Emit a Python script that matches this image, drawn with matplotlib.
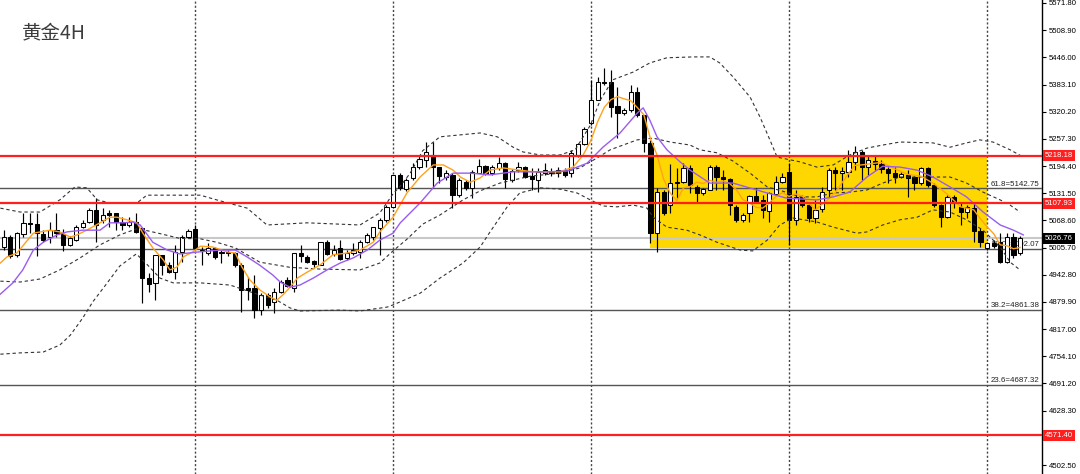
import matplotlib
matplotlib.use('Agg')
import matplotlib.pyplot as plt
from matplotlib.patches import Rectangle
import numpy as np

plt.rcParams['font.family'] = ['Liberation Sans', 'DejaVu Sans']

# --- 4H candles (oldest -> newest) ---
opens = [5006.3, 5029.5, 4988.5, 5037.2, 5061.9, 5059.6, 5037.2, 5031.0, 5046.4, 5037.2,
         5011.7, 5023.3, 5054.0, 5065.7, 5092.7, 5069.6, 5085.1, 5085.1, 5065.7, 5058.0,
         5065.7, 5050.3, 4934.6, 4923.0, 4988.5, 4965.4, 4949.9, 4996.2, 5031.0, 5048.1,
         5000.1, 4992.5, 5004.0, 4993.2, 4995.5, 4992.5, 4965.4, 4912.9, 4911.5, 4861.3,
         4896.0, 4880.5, 4903.6, 4930.7, 4911.5, 4992.5, 4984.6, 4974.7, 4965.4, 5019.4,
         4990.9, 5004.0, 4980.9, 4993.9, 4996.2, 5019.4, 5031.0, 5050.3, 5069.6, 5100.4,
         5173.7, 5140.6, 5166.1, 5191.5, 5208.4, 5220.0, 5191.5, 5169.8, 5173.7, 5127.4,
         5158.2, 5142.9, 5179.0, 5194.5, 5177.6, 5189.2, 5202.2, 5162.1, 5185.3, 5191.5,
         5171.4, 5162.1, 5177.6, 5181.4, 5185.3, 5185.3, 5177.6, 5220.0, 5245.5, 5293.4,
         5347.3, 5385.9, 5389.6, 5333.4, 5316.5, 5324.2, 5366.5, 5312.6, 5247.1, 5038.7,
         5135.1, 5104.3, 5154.5, 5158.2, 5189.2, 5146.6, 5132.7, 5139.0, 5192.9, 5168.4,
         5163.7, 5100.4, 5069.6, 5086.4, 5125.1, 5115.8, 5091.1, 5129.7, 5158.2, 5181.4,
         5069.6, 5123.5, 5104.3, 5073.5, 5094.3, 5139.0, 5185.3, 5177.6, 5181.4, 5204.5,
         5227.6, 5191.5, 5206.8, 5199.2, 5186.9, 5177.6, 5168.4, 5173.7, 5168.4, 5154.5,
         5189.2, 5150.6, 5104.3, 5077.2, 5123.5, 5100.4, 5088.8, 5097.3, 5044.8, 5004.0,
         5015.6, 5018.7, 4973.1, 5030.2, 4992.5]
highs = [5046.4, 5034.8, 5042.5, 5085.8, 5085.1, 5085.8, 5046.4, 5065.7, 5085.8, 5048.7,
         5032.6, 5058.0, 5069.6, 5096.6, 5119.8, 5096.6, 5092.7, 5085.8, 5077.2, 5077.2,
         5085.1, 5051.0, 4946.2, 4988.5, 4988.5, 4973.1, 5011.7, 5034.8, 5048.1, 5058.0,
         5007.7, 5015.6, 5007.7, 5000.1, 5000.1, 4996.2, 4969.3, 4938.3, 4942.3, 4900.6,
         4900.6, 4911.5, 4930.7, 4936.9, 4992.5, 5011.7, 4988.5, 4977.0, 5019.4, 5023.3,
         5011.7, 5023.3, 5000.1, 5015.6, 5023.3, 5038.7, 5054.0, 5073.5, 5104.3, 5173.7,
         5178.3, 5166.8, 5201.5, 5220.0, 5250.8, 5250.8, 5192.9, 5185.3, 5177.6, 5166.8,
         5162.1, 5185.3, 5210.1, 5196.8, 5196.8, 5216.1, 5204.5, 5186.9, 5204.5, 5194.5,
         5189.2, 5189.2, 5200.8, 5189.9, 5192.9, 5189.2, 5231.6, 5247.8, 5284.1, 5393.6,
         5401.2, 5420.6, 5416.7, 5378.1, 5328.1, 5382.0, 5376.7, 5312.6, 5254.7, 5142.9,
         5139.0, 5200.0, 5189.2, 5200.8, 5196.8, 5150.6, 5142.9, 5196.8, 5196.8, 5185.3,
         5166.1, 5104.3, 5085.1, 5127.4, 5142.9, 5127.4, 5135.1, 5171.4, 5177.6, 5200.8,
         5139.0, 5127.4, 5108.2, 5115.8, 5146.6, 5189.2, 5192.9, 5192.9, 5231.6, 5240.8,
         5231.6, 5220.0, 5220.0, 5208.4, 5192.9, 5192.9, 5181.4, 5185.3, 5172.1, 5191.5,
         5192.2, 5154.5, 5106.6, 5127.4, 5127.4, 5111.9, 5104.3, 5108.2, 5050.3, 5019.4,
         5023.3, 5038.7, 5038.7, 5038.7, 5032.6]
lows = [5000.1, 4981.6, 4984.6, 5031.0, 5038.7, 4986.2, 5019.4, 5016.4, 5030.3, 4997.8,
        5009.4, 5021.0, 5051.0, 5061.9, 5019.4, 5061.9, 5054.0, 5046.4, 5046.4, 5053.3,
        5038.7, 4876.8, 4903.6, 4884.4, 4942.3, 4947.6, 4932.3, 4973.1, 5027.2, 5000.1,
        4965.4, 4988.5, 4978.6, 4969.3, 4986.2, 4961.5, 4857.4, 4884.4, 4842.0, 4849.7,
        4865.9, 4853.6, 4899.9, 4915.2, 4903.6, 4973.1, 4969.3, 4957.8, 4965.4, 4988.5,
        4986.2, 4977.0, 4977.0, 4988.5, 4980.9, 5015.6, 5023.3, 4988.5, 5065.0, 5097.3,
        5139.0, 5136.7, 5162.1, 5187.6, 5192.9, 5142.9, 5154.5, 5162.1, 5096.6, 5123.5,
        5139.0, 5119.8, 5177.6, 5173.7, 5173.7, 5185.3, 5142.9, 5158.2, 5181.4, 5166.1,
        5139.0, 5135.1, 5173.7, 5171.4, 5169.8, 5169.8, 5169.8, 5216.1, 5243.1, 5289.4,
        5347.3, 5382.0, 5308.6, 5258.6, 5312.6, 5320.2, 5308.6, 5227.6, 5015.6, 4996.2,
        5081.1, 5085.1, 5119.8, 5154.5, 5131.3, 5111.9, 5127.4, 5139.0, 5139.0, 5139.0,
        5081.1, 5065.7, 5065.7, 5065.7, 5108.2, 5073.5, 5065.7, 5127.4, 5154.5, 5011.7,
        5058.0, 5100.4, 5065.7, 5061.9, 5088.8, 5123.5, 5139.0, 5139.0, 5169.8, 5185.3,
        5162.1, 5173.7, 5185.3, 5177.6, 5154.5, 5154.5, 5166.1, 5123.5, 5139.0, 5150.6,
        5146.6, 5100.4, 5054.0, 5073.5, 5096.6, 5058.0, 5073.5, 5019.4, 5007.7, 5000.1,
        5004.7, 4969.3, 4969.3, 4980.9, 4988.5]
closes = [5029.5, 4986.2, 5038.7, 5061.9, 5059.6, 5038.7, 5023.3, 5046.4, 5038.7, 5011.7,
          5027.2, 5054.0, 5063.3, 5092.7, 5058.0, 5081.1, 5081.1, 5065.7, 5058.0, 5064.9,
          5042.5, 4934.6, 4921.5, 4988.5, 4965.4, 4949.9, 4996.2, 5029.5, 5044.8, 5004.0,
          4998.5, 5005.4, 4984.6, 4996.2, 4993.2, 4965.4, 4907.6, 4907.6, 4861.3, 4896.0,
          4872.8, 4903.6, 4926.8, 4916.8, 4992.5, 4986.2, 4973.1, 4967.0, 5019.4, 4990.9,
          5000.1, 4978.6, 4993.9, 5000.1, 5019.4, 5034.8, 5054.0, 5069.6, 5100.4, 5173.7,
          5142.9, 5162.1, 5192.9, 5210.1, 5227.6, 5192.9, 5171.4, 5177.6, 5127.4, 5162.1,
          5142.9, 5181.4, 5194.5, 5176.0, 5191.5, 5202.2, 5163.7, 5183.7, 5191.5, 5169.8,
          5163.7, 5181.4, 5185.3, 5177.6, 5177.6, 5173.7, 5223.9, 5244.7, 5280.2, 5347.3,
          5389.6, 5389.6, 5331.8, 5316.5, 5324.2, 5366.5, 5312.6, 5247.1, 5038.7, 5135.1,
          5085.1, 5154.5, 5158.2, 5189.2, 5150.6, 5132.7, 5140.6, 5192.9, 5168.4, 5163.7,
          5104.3, 5069.6, 5081.1, 5125.1, 5114.2, 5092.7, 5131.3, 5158.2, 5169.8, 5069.6,
          5123.5, 5104.3, 5073.5, 5092.7, 5135.1, 5185.3, 5177.6, 5183.0, 5204.5, 5227.6,
          5192.9, 5208.4, 5199.2, 5186.9, 5179.0, 5168.4, 5176.0, 5166.1, 5154.5, 5189.2,
          5150.6, 5104.3, 5077.2, 5123.5, 5108.2, 5088.8, 5100.4, 5044.8, 5019.4, 5015.6,
          5009.4, 4973.1, 5030.2, 4988.5, 5026.8]

# --- Bollinger bands (dashed), read at bar positions ---
bb_up_x = [-0.5, 2.5, 5.5, 8.5, 10.8, 12.6, 14.2, 16.1, 20.2, 21.7, 29.8, 32.3, 36.9, 39.9, 46.0,
           54.0, 57.0, 59.0, 60.1, 61.6, 63.5, 66.1, 72.2, 74.8, 77.2, 78.7, 81.3, 84.3, 86.6, 88.9,
           90.4, 92.3, 95.4, 97.9, 100.5, 104.5, 107.0, 108.5, 110.5, 113.1, 114.6, 116.1, 117.2, 120.7, 123.2,
           125.7, 128.2, 130.8, 133.2, 135.8, 140.8, 143.4, 145.9, 147.9, 149.9, 152.5, 154.5]
bb_up = [5097, 5088, 5088, 5116, 5146, 5144, 5116, 5109, 5109, 5127, 5127, 5116, 5097, 5058, 5063,
         5058, 5086, 5130, 5148, 5178, 5230, 5262, 5271, 5262, 5238, 5227, 5220, 5220, 5232, 5289,
         5347, 5394, 5412, 5433, 5445, 5447, 5447, 5433, 5401, 5354, 5308, 5255, 5215, 5204, 5192,
         5197, 5220, 5236, 5243, 5250, 5248, 5238, 5248, 5255, 5250, 5232, 5215]
bb_mid_x = [-0.5, 2.5, 5.5, 8.5, 11.6, 14.6, 17.6, 20.1, 21.4, 23.7, 26.7, 29.8, 32.3, 35.1, 38.8,
            43.4, 47.9, 54.0, 57.0, 59.0, 61.1, 63.5, 66.1, 69.6, 72.2, 75.2, 79.8, 84.3, 87.3, 89.9,
            91.9, 96.0, 98.4, 101.0, 104.0, 105.5, 108.1, 110.5, 113.1, 115.7, 118.1, 120.7, 123.2, 125.7, 128.2,
            130.8, 133.2, 135.8, 140.8, 143.4, 145.9, 148.4, 151.0, 152.5, 154.0]
bb_mid = [4928, 4926, 4933, 4954, 4982, 5012, 5035, 5049, 5046, 5038, 5027, 5026, 5018, 5005, 4972,
          4960, 4956, 4954, 4970, 4998, 5025, 5060, 5081, 5116, 5137, 5155, 5171, 5178, 5190, 5213,
          5232, 5255, 5259, 5250, 5243, 5232, 5225, 5206, 5178, 5146, 5136, 5123, 5123, 5132, 5134,
          5139, 5155, 5169, 5169, 5169, 5155, 5134, 5116, 5104, 5088]
bb_lo_x = [-0.5, 2.5, 6.0, 8.5, 10.1, 12.0, 13.5, 15.7, 17.6, 20.1, 21.4, 23.7, 25.7, 29.8, 34.3,
           38.8, 41.4, 43.4, 44.9, 51.0, 54.0, 58.1, 59.0, 63.1, 66.1, 69.6, 72.2, 73.7, 76.3, 78.2,
           81.3, 84.3, 86.9, 88.9, 90.8, 92.9, 95.4, 97.5, 98.4, 100.5, 103.5, 105.5, 108.1, 111.6, 113.5,
           115.7, 117.6, 119.6, 123.2, 125.7, 129.3, 130.8, 133.2, 135.8, 138.4, 140.8, 143.4, 145.9, 148.4, 151.0,
           152.5, 154.0]
bb_lo = [4759, 4762, 4764, 4780, 4803, 4843, 4880, 4924, 4963, 4991, 4972, 4935, 4924, 4924, 4919,
         4896, 4884, 4866, 4859, 4861, 4859, 4868, 4873, 4900, 4935, 4970, 5007, 5042, 5100, 5132,
         5144, 5141, 5132, 5116, 5102, 5100, 5104, 5097, 5076, 5053, 5046, 5035, 5018, 5000, 4998,
         5023, 5058, 5074, 5065, 5053, 5039, 5042, 5058, 5070, 5076, 5093, 5088, 5070, 5046, 5007,
         4972, 4954]

# --- moving averages ---
ma_fast_x = [-0.5, 0.5, 2.0, 4.5, 7.0, 8.5, 10.1, 11.1, 12.6, 14.6, 16.1, 17.2, 18.7, 20.2, 21.1,
             22.6, 24.2, 25.2, 26.3, 27.2, 28.7, 29.8, 31.7, 33.8, 35.1, 36.1, 37.3, 38.8, 40.4, 41.4,
             42.3, 43.4, 44.5, 46.0, 47.9, 49.9, 52.0, 54.0, 56.0, 57.0, 59.0, 61.1, 63.1, 65.1, 66.6,
             68.1, 69.2, 70.7, 72.2, 73.7, 75.7, 78.2, 80.2, 82.3, 84.3, 86.3, 87.8,
             89, 90, 91, 92, 93, 94, 95, 96, 97, 98, 99, 100, 101, 102, 103, 104, 105, 106, 107, 108,
             109, 110, 111, 112, 113, 114, 115, 116, 117, 118, 119, 120, 121, 122, 123, 124, 125, 126,
             127, 128, 129, 130, 133, 135, 137, 139, 141, 143, 145, 147, 148, 149, 150, 151, 152, 153, 154]
ma_fast = [4970, 4984, 4993, 5039, 5046, 5042, 5030, 5035, 5046, 5063, 5076, 5076, 5070, 5063, 5039,
           5005, 4977, 4954, 4961, 4984, 4996, 5009, 5007, 4996, 4993, 4961, 4931, 4908, 4891, 4884,
           4896, 4914, 4935, 4949, 4965, 4989, 4993, 5000, 5018, 5042, 5076, 5132, 5169, 5197, 5197,
           5185, 5169, 5157, 5167, 5185, 5190, 5185, 5181, 5181, 5181, 5192, 5220,
           5254, 5297, 5330, 5348, 5355, 5350, 5346, 5330, 5313, 5258, 5220, 5164, 5132, 5114, 5144, 5147,
           5157, 5154, 5161, 5157, 5160, 5154, 5140, 5117, 5109, 5099, 5097, 5109, 5124, 5133, 5124, 5130,
           5125, 5108, 5093, 5106, 5118, 5133, 5155, 5177, 5196, 5197, 5203, 5188, 5175, 5171, 5153, 5129,
           5100, 5093, 5072, 5054, 5038, 5012, 5010, 5003, 5006]
ma_slow_x = [-0.5, 1.4, 2.9, 4.5, 6.0, 8.1, 9.6, 12.0, 14.6, 16.1, 18.1, 19.6, 20.7, 22.6, 24.8,
             26.7, 29.8, 32.8, 35.1, 36.9, 38.8, 40.8, 41.9, 43.4, 44.9, 46.9, 49.0, 51.0, 53.0, 55.1,
             57.0, 59.0, 60.1, 63.1, 65.7, 68.1, 70.7, 73.7, 77.2, 82.3, 85.4, 88.4, 90.8, 93.4, 96.0,
             96.9, 97.9, 99.0, 100.5, 102.5, 104.0, 107.0, 110.5, 115.7, 118.7, 123.2, 125.7, 128.2, 130.8, 133.2,
             135.8, 138.4, 140.8, 143.4, 145.9, 148.4, 151.0, 153.0, 154.5]
ma_slow = [4898, 4924, 4954, 5000, 5018, 5035, 5042, 5046, 5046, 5063, 5063, 5065, 5058, 5018, 5000,
           4991, 4996, 5000, 5000, 4984, 4965, 4942, 4926, 4914, 4919, 4935, 4954, 4970, 4982, 5000,
           5023, 5039, 5063, 5109, 5155, 5178, 5178, 5174, 5181, 5181, 5183, 5201, 5238, 5271, 5317,
           5329, 5301, 5262, 5232, 5204, 5185, 5155, 5155, 5132, 5120, 5116, 5123, 5134, 5169, 5194,
           5192, 5185, 5169, 5146, 5123, 5088, 5058, 5046, 5035]

# --- horizontal levels / objects ---
red_levels = [5218.18, 5107.93, 4571.40]
fib_names = ['61.8', '50.0', '38.2', '23.6']
fib_levels = [5142.75, 5002.07, 4861.38, 4687.32]
bid_price = 5026.76
box_bars = (98, 149)
box_prices = (5005.0, 5218.18)
grid_bars = [29, 59, 89, 119, 149]
axis_ticks = [5571.80, 5508.90, 5446.00, 5383.10, 5320.20, 5257.30, 5194.40, 5131.50, 5068.60,
              5005.70, 4942.80, 4879.90, 4817.00, 4754.10, 4691.20, 4628.30, 4565.40, 4502.50]
hidden_tick = 4565.40   # sits under the 4571.40 tag

fig = plt.figure(figsize=(10.8, 4.74), dpi=100)
ax = fig.add_axes([0, 0, 1042 / 1080, 1])
ax.set_xlim(-0.55, 157.33)
ax.set_ylim(4481.7, 5578.7)

# yellow range box
ax.add_patch(Rectangle((box_bars[0], box_prices[0]), box_bars[1] - box_bars[0],
                       box_prices[1] - box_prices[0], fc='#ffd700', ec='none', zorder=1))

# levels
ax.axhline(bid_price, color='#c8c8c8', lw=1.5, zorder=2.5)
for name, p in zip(fib_names, fib_levels):
    ax.axhline(p, color='#555555', lw=1.0, zorder=3)
    ax.text(157.0, p + 2, f'{name}={p:.2f}', ha='right', va='bottom', fontsize=5.7,
            color='#222222', zorder=3.2)

# candles
o = np.array(opens); h = np.array(highs); l = np.array(lows); c = np.array(closes)
x = np.arange(len(o))
up = c >= o
ax.vlines(x, l, h, color='black', lw=0.85, zorder=4)
body_lo = np.minimum(o, c)
body_h = np.maximum(np.abs(c - o), 0.6)
ax.bar(x[up], body_h[up], bottom=body_lo[up], width=0.64, color='white',
       edgecolor='black', linewidth=0.75, zorder=5)
ax.bar(x[~up], body_h[~up], bottom=body_lo[~up], width=0.64, color='black',
       edgecolor='black', linewidth=0.75, zorder=5)

# indicators
dash = (0, (3, 2.5))
for bx, by in [(bb_up_x, bb_up), (bb_mid_x, bb_mid), (bb_lo_x, bb_lo)]:
    ax.plot(bx, by, color='#333333', lw=0.8, ls=dash, zorder=6)
ax.plot(ma_fast_x, ma_fast, color='#ffa21a', lw=1.0, zorder=6)
ax.plot(ma_slow_x, ma_slow, color='#9a5cf0', lw=1.0, zorder=6)

for p in red_levels:
    ax.axhline(p, color='#ff1f1f', lw=1.6, zorder=7)

# vertical grid
ax.set_xticks(grid_bars)
ax.grid(axis='x', color='#444444', ls=(0, (1.5, 1.5)), lw=1.0)
ax.tick_params(axis='x', length=0, labelbottom=False)

# right price scale
for s in ['left', 'top', 'bottom']:
    ax.spines[s].set_visible(False)
ax.spines['right'].set_color('black')
ax.spines['right'].set_linewidth(1.0)
ax.yaxis.tick_right()
ax.set_yticks(axis_ticks)
ax.set_yticklabels(['' if v == hidden_tick else f'{v:.2f}' for v in axis_ticks])
ax.tick_params(axis='y', direction='out', length=3, width=0.8, pad=2, labelsize=5.6, colors='black')

for p in red_levels:
    ax.annotate(f'{p:.2f}', xy=(1, p), xycoords=('axes fraction', 'data'), xytext=(2.2, 0),
                textcoords='offset points', ha='left', va='center', fontsize=5.6, color='white',
                bbox=dict(boxstyle='square,pad=0.25', fc='#ff1f1f', ec='none'),
                annotation_clip=False, zorder=10)
ax.annotate(f'{bid_price:.2f}', xy=(1, bid_price), xycoords=('axes fraction', 'data'), xytext=(2.2, 0),
            textcoords='offset points', ha='left', va='center', fontsize=5.6, color='white',
            bbox=dict(boxstyle='square,pad=0.25', fc='black', ec='none'),
            annotation_clip=False, zorder=10)

fig.text(22 / 1080, 1 - 33 / 474, '黄金4H', fontsize=14, color='#3c3c3c', ha='left', va='center',
         family=['Noto Sans CJK SC', 'DejaVu Sans'])

fig.savefig('out.png', dpi=100)
